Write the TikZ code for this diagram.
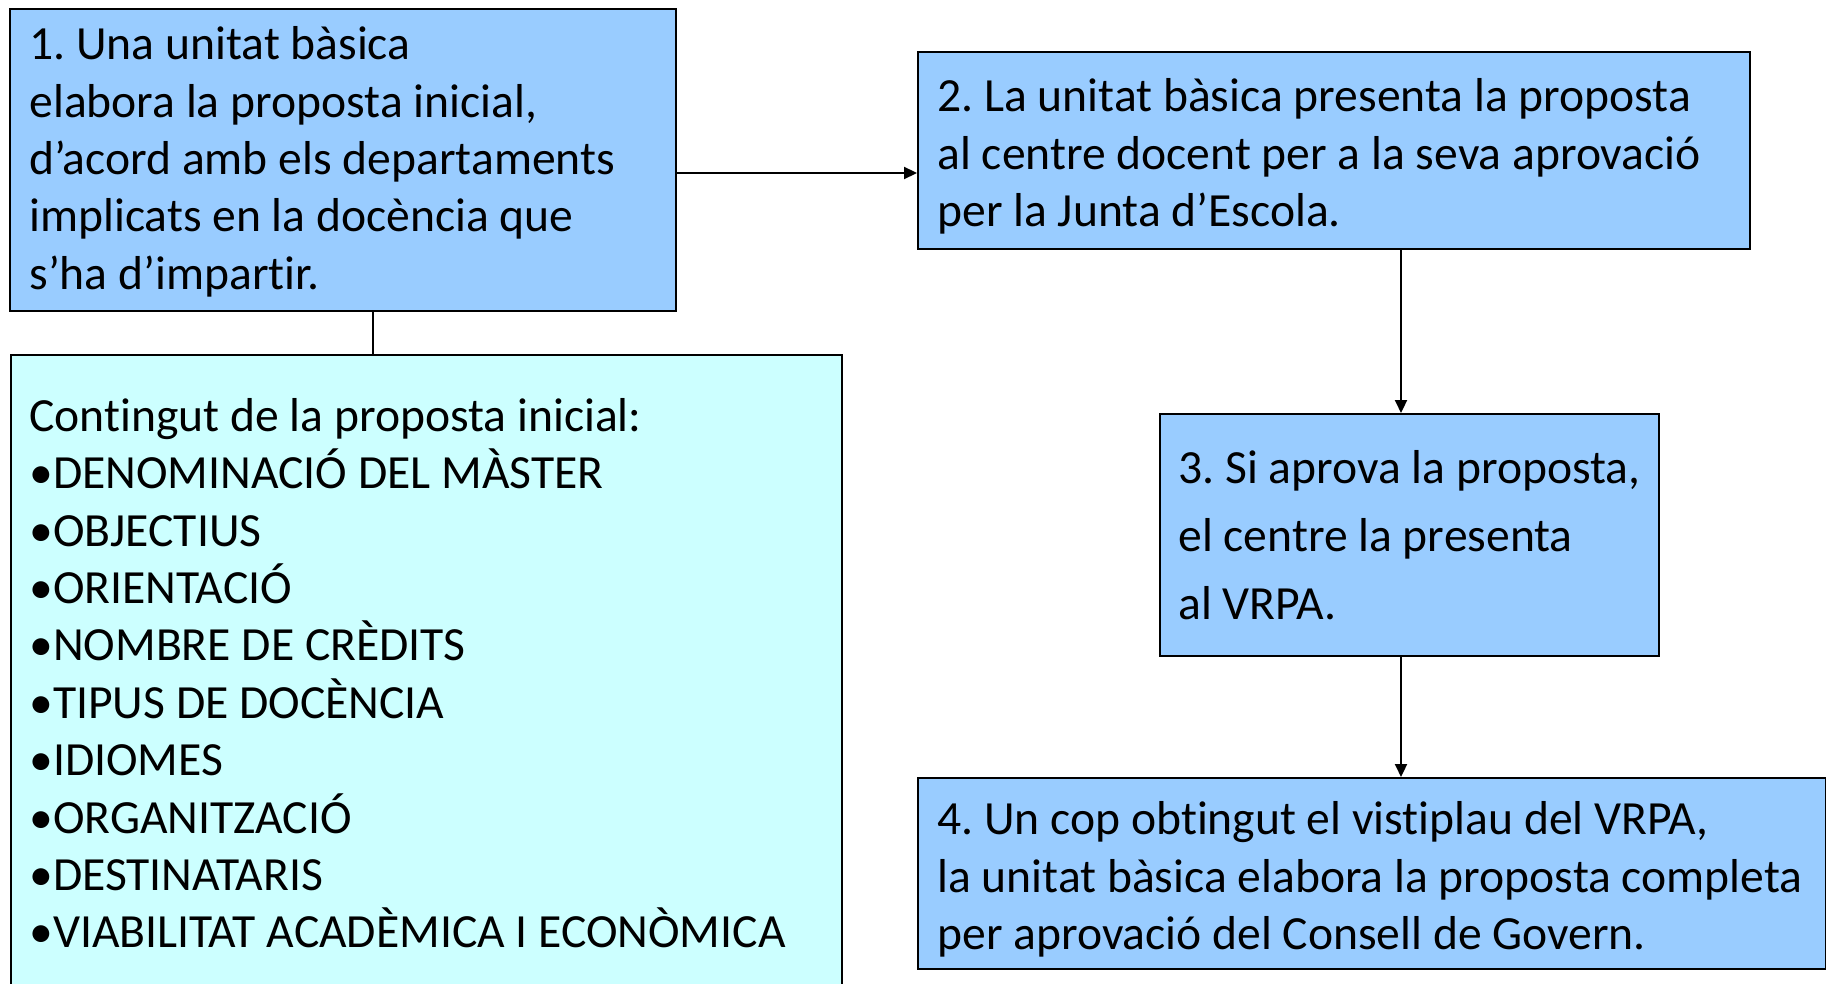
\documentclass[tikz,border=0pt]{standalone}
\usepackage{fontspec}
\setmainfont{Carlito}[Ligatures=NoCommon]
\usetikzlibrary{arrows.meta}
\definecolor{boxblue}{HTML}{99CCFF}
\definecolor{boxcyan}{HTML}{CCFFFF}
\frenchspacing
\begin{document}
\begin{tikzpicture}[x=0.5pt,y=-0.5pt,
  frame/.style={draw=black, line width=1.2pt, rectangle, anchor=north west, inner sep=0pt},
  bluebox/.style={frame, fill=boxblue},
  cyanbox/.style={frame, fill=boxcyan},
  txt/.style={anchor=west, inner sep=0pt, align=left, font=\fontsize{23.8}{28.7}\selectfont},
  conn/.style={line width=1.1pt, draw=black},
  arr/.style={conn, -{Triangle[length=6.5pt,width=6pt]}}]
\useasboundingbox (0,0) rectangle (1826,984);

\node[bluebox, minimum width=333pt, minimum height=151pt] (b1) at (9,8) {};
\node[txt] (t1) at ([xshift=10pt,yshift=-0.8pt]b1.west) {1. Una unitat bàsica\\elabora la proposta inicial,\\d’acord amb els departaments\\implicats en la docència que\\s’ha d’impartir.};

\node[bluebox, minimum width=416pt, minimum height=98.5pt] (b2) at (917,51) {};
\node[txt] (t2) at ([xshift=10pt,yshift=-3pt]b2.west) {2. La unitat bàsica presenta la proposta\\al centre docent per a la seva aprovació\\per la Junta d’Escola.};

\node[bluebox, minimum width=249.5pt, minimum height=121pt] (b3) at (1159,413) {};
\node[txt, font=\fontsize{23.8}{34}\selectfont] (t3) at ([xshift=9.5pt]b3.west) {3. Si aprova la proposta,\\el centre la presenta\\al VRPA.};

\node[bluebox, minimum width=454pt, minimum height=95.5pt] (b4) at (917,777) {};
\node[txt] (t4) at ([xshift=10pt,yshift=-3pt]b4.west) {4. Un cop obtingut el vistiplau del VRPA,\\la unitat bàsica elabora la proposta completa\\per aprovació del Consell de Govern.};

\node[cyanbox, minimum width=415.5pt, minimum height=320pt] (c) at (10,354) {};
\node[txt] (tc) at ([xshift=9.5pt,yshift=1pt]c.west) {Contingut de la proposta inicial:\\•DENOMINACIÓ DEL MÀSTER\\•OBJECTIUS\\•ORIENTACIÓ\\•NOMBRE DE CRÈDITS\\•TIPUS DE DOCÈNCIA\\•IDIOMES\\•ORGANITZACIÓ\\•DESTINATARIS\\•VIABILITAT ACADÈMICA I ECONÒMICA};

\coordinate (r12) at (0,173);
\coordinate (d23) at (1401,0);
\coordinate (d1c) at (373,0);

\draw[arr] (b1.east |- r12) -- (b2.west |- r12);
\draw[arr] (b2.south -| d23) -- (b3.north -| d23);
\draw[arr] (b3.south -| d23) -- (b4.north -| d23);
\draw[conn] (b1.south -| d1c) -- (c.north -| d1c);
\end{tikzpicture}
\end{document}
